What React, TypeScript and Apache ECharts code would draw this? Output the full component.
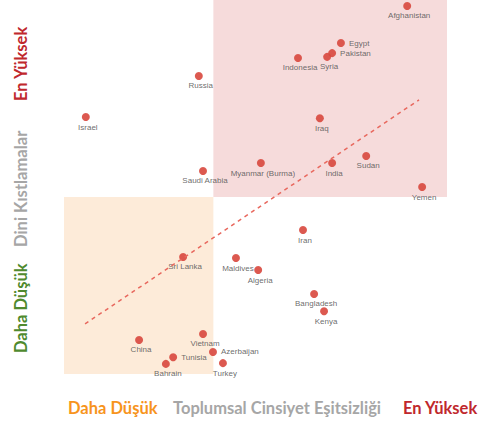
import React, { useEffect, useRef } from "react";
import * as echarts from "echarts";

const countries = [
  "Afghanistan", "Egypt", "Pakistan", "Syria", "Indonesia", "Russia", "Israel", "Iraq",
  "Sudan", "India", "Myanmar (Burma)", "Saudi Arabia", "Yemen", "Iran", "Sri Lanka",
  "Maldives", "Algeria", "Bangladesh", "Kenya", "Vietnam", "China", "Azerbaijan",
  "Tunisia", "Bahrain", "Turkey",
];
// Gender inequality (x) and religious restrictions (y), 0-100 scale
const genderInequality = [
  89.6, 72.3, 70.0, 68.7, 61.1, 35.2, 5.7, 66.8,
  78.9, 70.0, 51.4, 36.3, 93.5, 62.4, 31.1,
  44.9, 50.7, 65.3, 67.9, 36.3, 19.6, 38.9,
  28.5, 26.6, 41.5,
];
const religiousRestrictions = [
  98.4, 88.5, 85.8, 84.8, 84.5, 79.7, 68.7, 68.4,
  58.3, 56.4, 56.4, 54.3, 50.0, 38.5, 31.3,
  31.0, 27.8, 21.4, 16.8, 10.7, 9.1, 5.9,
  4.5, 2.7, 2.9,
];
const rightLabeled = ["Egypt", "Pakistan", "Azerbaijan", "Tunisia"];
const trendLine = [[5.5, 13.4], [92.7, 73.3]];
const lowRegion = [[0, 0], [39, 47.3]];
const highRegion = [[39, 47.3], [100, 100]];

export default function App() {
  const ref = useRef<HTMLDivElement>(null);
  useEffect(() => {
    const chart = echarts.init(ref.current!, null, { renderer: "svg" });
    const data = countries.map((name, i) => ({
      name,
      value: [genderInequality[i], religiousRestrictions[i]],
      label: rightLabeled.includes(name)
        ? { position: "right", distance: 4, offset: [0, 0] }
        : { position: "bottom", distance: 2, offset: [2, 0] },
    }));
    const titleFont = { fontFamily: "Lato", fontWeight: "bold", fontSize: 16.5 };
    chart.setOption({
      animation: false,
      grid: { left: 64, right: 34, top: 0, bottom: 49 },
      xAxis: { type: "value", min: 0, max: 100, show: false },
      yAxis: { type: "value", min: 0, max: 100, show: false },
      series: [
        {
          type: "scatter",
          data,
          symbolSize: 8,
          itemStyle: { color: "#d8473d", opacity: 0.9 },
          label: {
            show: true,
            formatter: "{b}",
            fontSize: 8,
            color: "#5a5a5a",
            fontFamily: "Liberation Sans",
          },
          markArea: {
            silent: true,
            data: [
              [
                { coord: lowRegion[0], itemStyle: { color: "#fdebd9" } },
                { coord: lowRegion[1] },
              ],
              [
                { coord: highRegion[0], itemStyle: { color: "#f6dbdb" } },
                { coord: highRegion[1] },
              ],
            ],
          },
          markLine: {
            silent: true,
            symbol: "none",
            label: { show: false },
            lineStyle: { color: "#e8685e", type: [4, 4], width: 1.5 },
            data: [[{ coord: trendLine[0] }, { coord: trendLine[1] }]],
          },
          z: 3,
        },
      ],
      graphic: [
        { type: "text", x: 68, y: 408, style: { text: "Daha Düşük", fill: "#f7941d", verticalAlign: "middle", ...titleFont } },
        { type: "text", x: 173, y: 408, style: { text: "Toplumsal Cinsiyet Eşitsizliği", fill: "#a6a6a6", verticalAlign: "middle", ...titleFont } },
        { type: "text", x: 403, y: 408, style: { text: "En Yüksek", fill: "#c0282d", verticalAlign: "middle", ...titleFont } },
        { type: "text", x: 21, y: 353, rotation: Math.PI / 2, style: { text: "Daha Düşük", fill: "#4f8a2e", align: "left", verticalAlign: "middle", ...titleFont } },
        { type: "text", x: 21, y: 247, rotation: Math.PI / 2, style: { text: "Dini Kıstlamalar", fill: "#a6a6a6", align: "left", verticalAlign: "middle", ...titleFont } },
        { type: "text", x: 21, y: 101, rotation: Math.PI / 2, style: { text: "En Yüksek", fill: "#c0282d", align: "left", verticalAlign: "middle", ...titleFont } },
      ],
    });
    return () => chart.dispose();
  }, []);
  return <div ref={ref} style={{ width: 481, height: 423, position: "absolute", left: 0, top: 0 }} />;
}
